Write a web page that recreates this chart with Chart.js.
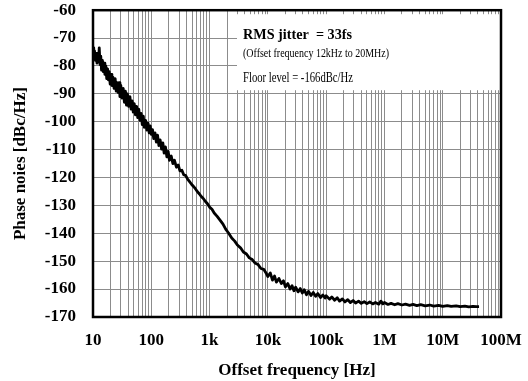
<!DOCTYPE html>
<html>
<head>
<meta charset="utf-8">
<script src="https://cdn.jsdelivr.net/npm/chart.js@4.4.0/dist/chart.umd.min.js"></script>
<style>
  body { margin: 0; background: #fff; }
</style>
</head>
<body>
<canvas id="myChart" width="528" height="381"></canvas>
<script>
// phase noise, one pair of arrays per decade
const freqA = [10, 10.3, 10.6, 11, 11.3, 11.7, 12, 12.4, 12.8, 13.2, 13.6, 14, 14.5, 15, 15.5, 16, 16.6, 17.2, 17.8, 18.4, 19, 19.7, 20.4, 21.1, 22, 23, 24, 25, 26, 27, 28, 29, 30, 31.5, 33, 34.5, 36, 37.5, 39, 41, 43, 45, 47, 49, 51, 53.5, 56, 58.5, 61, 64, 67, 70, 73, 76, 80, 84, 88, 92, 96];
const levelA = [-73.5, -76.5, -74.5, -78, -75.5, -79, -76, -78.5, -73.5, -79.5, -76.5, -81.5, -78, -82, -79, -83, -80, -84.5, -81, -85, -82, -86.5, -83, -87, -84, -88, -84.5, -89, -86, -89.5, -86, -91, -87, -91.5, -88, -93, -89, -94, -90, -94.5, -91, -95.5, -92.5, -96.5, -93.5, -97.5, -94.5, -98.5, -95.5, -99.5, -97, -101, -98, -102, -99.5, -103, -100.5, -104, -101.5];

const freqB = [100, 105, 110, 116, 122, 128, 135, 142, 150, 158, 166, 175, 185, 195, 205, 220, 235, 250, 270, 290, 310, 335, 360, 390, 420, 450, 490, 530, 570, 620, 670, 720, 780, 850, 920];
const levelB = [-104.5, -102.8, -106, -104, -107.3, -104.8, -108.5, -106.5, -109.8, -107.6, -111.2, -109, -112.6, -110.6, -113.8, -112.3, -115, -113.8, -116.3, -115.5, -117.6, -117.4, -119, -119.3, -120.6, -121.4, -122.4, -123.2, -124, -125.1, -125.9, -126.8, -127.5, -128.6, -129.4];

const freqC = [1000, 1100, 1200, 1350, 1500, 1700, 1900, 2100, 2400, 2700, 3000, 3400, 3800, 4300, 4800, 5400, 6000, 6800, 7600, 8500, 9300];
const levelC = [-130.6, -131.4, -132.7, -133.9, -135.2, -136.7, -138.6, -139.8, -141.7, -142.8, -144.2, -145.2, -146.7, -147.4, -148.8, -149.4, -150.6, -151.2, -152.6, -152.9, -154.2];

const freqD = [10000, 11000, 12000, 13000, 14000, 15500, 17000, 18500, 20000, 22000, 24000, 26000, 28000, 30000, 33000, 36000, 39000, 42000, 46000, 50000, 55000, 60000, 66000, 72000, 80000, 88000, 96000];
const levelD = [-155.5, -154.2, -156.8, -155.3, -157.5, -156.2, -158, -157, -159.2, -158, -160, -158.8, -160.6, -159.3, -161, -159.8, -161.4, -160.2, -162, -160.8, -162.3, -161.2, -162.6, -161.6, -163, -162.1, -163.2];

const freqE = [100000, 115000, 125000, 140000, 155000, 170000, 190000, 210000, 235000, 260000, 290000, 320000, 360000, 400000, 450000, 500000, 560000, 630000, 700000, 800000, 870000, 940000];
const levelE = [-162.4, -163.6, -162.8, -164, -163.1, -164.3, -163.5, -164.6, -163.8, -164.8, -164.1, -165, -164.3, -165.1, -164.5, -165.2, -164.6, -165.3, -164.8, -165.4, -164.3, -165.3];

const freqF = [1000000, 1150000, 1300000, 1500000, 1700000, 2000000, 2300000, 2700000, 3100000, 3600000, 4200000, 5000000, 6000000, 7000000, 8500000, 10000000, 12000000, 14000000, 17000000, 20000000, 24000000, 28000000, 33000000, 38000000, 42000000];
const levelF = [-164.8, -165.5, -165.1, -165.6, -165.2, -165.7, -165.4, -165.8, -165.5, -165.9, -165.6, -166, -165.7, -166.1, -165.8, -166.2, -165.9, -166.2, -166, -166.3, -166.1, -166.4, -166.2, -166.3, -166.3];

const xTickValues = [10, 100, 1000, 10000, 100000, 1000000, 10000000, 100000000];
const xTickLabels = ["10", "100", "1k", "10k", "100k", "1M", "10M", "100M"];

const freqs = [].concat(freqA, freqB, freqC, freqD, freqE, freqF);
const levels = [].concat(levelA, levelB, levelC, levelD, levelE, levelF);
const points = freqs.map((f, i) => ({ x: f, y: levels[i] }));

// grid lines at 1..9 x each decade
let gridValues = [];
for (let e = 1; e < 8; e++) {
  for (let m = 1; m < 10; m++) gridValues.push(m * Math.pow(10, e));
}
gridValues.push(100000000);

const serif = '"Liberation Serif", "Times New Roman", serif';
Chart.defaults.font.family = serif;
Chart.defaults.color = "#000";

const textBox = {
  id: "textBox",
  beforeDatasetsDraw(chart) {
    const ctx = chart.ctx;
    const a = chart.chartArea;
    const left = a.left + 144;
    ctx.save();
    ctx.fillStyle = "#fff";
    ctx.fillRect(left, a.top + 4, a.right - left, 76);
    ctx.fillStyle = "#000";
    ctx.textBaseline = "alphabetic";
    ctx.font = "bold 15px " + serif;
    ctx.fillText("RMS jitter  = 33fs", left + 6, a.top + 29, 109);
    ctx.font = "11.5px " + serif;
    ctx.fillText("(Offset frequency 12kHz to 20MHz)", left + 6, a.top + 47, 146);
    ctx.font = "14px " + serif;
    ctx.fillText("Floor level = -166dBc/Hz", left + 6, a.top + 72, 110);
    ctx.restore();
  }
};

const frame = {
  id: "frame",
  afterDatasetsDraw(chart) {
    const ctx = chart.ctx;
    const a = chart.chartArea;
    ctx.save();
    ctx.strokeStyle = "#000";
    ctx.lineWidth = 2.5;
    ctx.strokeRect(a.left, a.top, a.right - a.left, a.bottom - a.top);
    ctx.restore();
  }
};

let ctx = document.getElementById("myChart").getContext("2d");

let myChart = new Chart(ctx, {
  type: "line",
  data: {
    datasets: [
      {
        data: points,
        borderColor: "#000",
        borderWidth: 2.8,
        borderJoinStyle: "round",
        pointRadius: 0,
        tension: 0,
        fill: false,
      },
    ],
  },
  options: {
    responsive: false,
    animation: false,
    layout: { padding: { left: 0, right: 27, top: 10, bottom: 0 } },
    plugins: { legend: { display: false }, tooltip: { enabled: false } },
    scales: {
      x: {
        type: "logarithmic",
        min: 10,
        max: 100000000,
        afterBuildTicks: (s) => { s.ticks = gridValues.map((v) => ({ value: v })); },
        afterFit: (s) => { s.height = 64; },
        ticks: {
          autoSkip: false,
          maxRotation: 0,
          padding: 0,
          font: { size: 17, weight: "bold" },
          callback: (v) => {
            const i = xTickValues.indexOf(v);
            return i >= 0 ? xTickLabels[i] : "";
          },
        },
        grid: { color: "#8c8c8c", lineWidth: 1, drawTicks: true, tickLength: 13, tickColor: "rgba(0,0,0,0)" },
        border: { display: false },
        title: {
          display: true,
          text: "Offset frequency [Hz]",
          font: { size: 17, weight: "bold" },
          padding: { top: 0, bottom: 0 },
        },
      },
      y: {
        min: -170,
        max: -60,
        afterFit: (s) => { s.width = 93; },
        ticks: {
          stepSize: 10,
          padding: 0,
          font: { size: 17, weight: "bold" },
          callback: (v) => String(v),
        },
        grid: { color: "#8c8c8c", lineWidth: 1, drawTicks: true, tickLength: 17, tickColor: "rgba(0,0,0,0)" },
        border: { display: false },
        title: {
          display: true,
          text: "Phase noies [dBc/Hz]",
          font: { size: 17, weight: "bold" },
          padding: { top: 10, bottom: 0 },
        },
      },
    },
  },
  plugins: [textBox, frame],
});
</script>
</body>
</html>
